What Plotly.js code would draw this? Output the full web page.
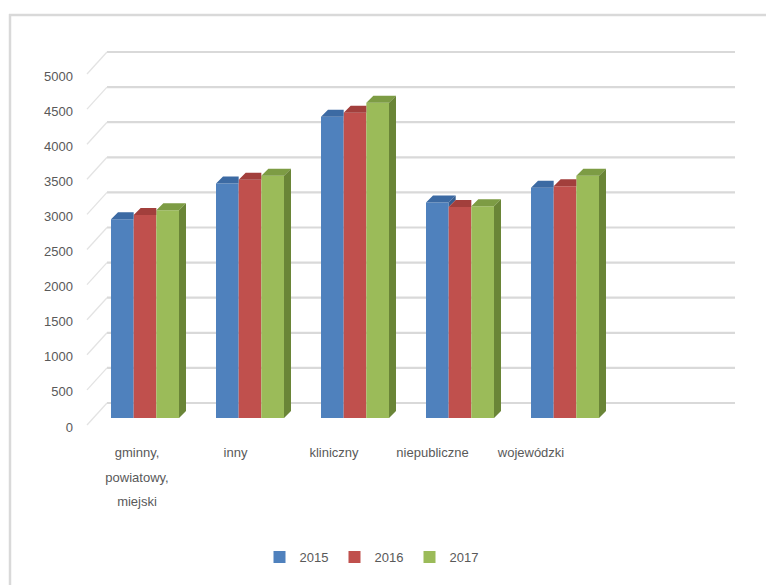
<!DOCTYPE html>
<html>
<head>
<meta charset="utf-8">
<script src="https://cdn.plot.ly/plotly-3.0.1.min.js"></script>
<style>html,body{margin:0;padding:0;background:#fff;}#chart{width:766px;height:585px;}</style>
</head>
<body>
<div id="chart"></div>
<script>
// ---- data ----
const categories = ['gminny,<br>powiatowy,<br>miejski', 'inny', 'kliniczny', 'niepubliczne', 'wojewódzki'];
const years = ['2015', '2016', '2017'];
const v2015 = [2830, 3340, 4290, 3070, 3280];
const v2016 = [2890, 3395, 4350, 3005, 3300];
const v2017 = [2960, 3450, 4490, 3015, 3450];
const yTicks = [0, 500, 1000, 1500, 2000, 2500, 3000, 3500, 4000, 4500, 5000];

// ---- styling / geometry ----
const frontColors = ['#4f81bd', '#c0504d', '#9bbb59'];
const topColors = ['#3c6aa3', '#a23f3c', '#7d9c44'];
const sideColors = ['#355d8f', '#8e3634', '#6a8537'];
const W = 766, H = 585;
const M = {l: 92, r: 31, t: 40, b: 145};
const plotW = W - M.l - M.r, plotH = H - M.t - M.b;
const pxTop = M.t, pxBot = H - M.b;
const k = 35.1 / 500;             // px per unit
const barZero = 418, labelZero = 427;
const catPx = 105, firstCat = 145;
const lblPx = 98.5, firstLbl = 137;
const bargap = 1 - 68 / 105;
const bw = (1 - bargap) / 3;
const dx = 7 / catPx, dy = 7 / k;
const px2paperX = p => (p - M.l) / plotW;
const px2paperY = p => (pxBot - p) / plotH;

const series = [v2015, v2016, v2017];
const xIdx = categories.map((c, i) => i);

const traces = series.map((vals, j) => ({
  type: 'bar', x: xIdx, y: vals, name: years[j],
  marker: {color: frontColors[j], line: {width: 0}},
  xaxis: 'x', yaxis: 'y', hoverinfo: 'y'
}));

// 3D faces (top and visible right side) built from the data
series.forEach((vals, j) => {
  const tx = [], ty = [], sx = [], sy = [];
  vals.forEach((v, i) => {
    const L = i + (j - 1.5) * bw, R = i + (j - 0.5) * bw;
    const next = j < 2 ? series[j + 1][i] : null;
    if (next !== null && next > v) {
      tx.push(L, R, R, L + dx, null); ty.push(v, v, v + dy, v + dy, null);
    } else {
      tx.push(L, R, R + dx, L + dx, null); ty.push(v, v, v + dy, v + dy, null);
      const base = next === null ? 0 : next;
      sx.push(R, R, R + dx, R + dx, null); sy.push(base, v, v + dy, base + dy, null);
    }
  });
  traces.push({type: 'scatter', x: tx, y: ty, fill: 'toself', fillcolor: topColors[j],
    mode: 'lines', line: {width: 0}, showlegend: false, hoverinfo: 'skip', xaxis: 'x', yaxis: 'y'});
  if (sx.length) traces.push({type: 'scatter', x: sx, y: sy, fill: 'toself', fillcolor: sideColors[j],
    mode: 'lines', line: {width: 0}, showlegend: false, hoverinfo: 'skip', xaxis: 'x', yaxis: 'y'});
});

// invisible trace to carry category labels axis
traces.push({type: 'scatter', x: xIdx, y: xIdx.map(() => 0), xaxis: 'x2', yaxis: 'y2',
  mode: 'markers', marker: {opacity: 0}, showlegend: false, hoverinfo: 'skip'});

const shapes = [];
// frame
shapes.push({type: 'line', xref: 'paper', yref: 'paper', layer: 'below',
  x0: px2paperX(10), x1: px2paperX(10), y0: px2paperY(14), y1: px2paperY(600),
  line: {color: '#d9d9d9', width: 2.5}});
shapes.push({type: 'line', xref: 'paper', yref: 'paper', layer: 'below',
  x0: px2paperX(9), x1: px2paperX(790), y0: px2paperY(15), y1: px2paperY(15),
  line: {color: '#d9d9d9', width: 2.5}});
yTicks.forEach(t => {
  shapes.push({type: 'line', xref: 'paper', yref: 'y2', ysizemode: 'pixel', yanchor: t,
    x0: px2paperX(107), x1: px2paperX(735), y0: 24, y1: 24, layer: 'below',
    line: {color: '#d9d9d9', width: 2.2}});
  shapes.push({type: 'line', xref: 'paper', yref: 'y2', ysizemode: 'pixel', yanchor: t,
    x0: px2paperX(87), x1: px2paperX(107), y0: 2, y1: 24, layer: 'below',
    line: {color: '#e3e3e3', width: 1.3}});
});

const font = {family: 'Liberation Sans, Arial, sans-serif', size: 13, color: '#595959'};

const layout = {
  width: W, height: H, margin: M,
  paper_bgcolor: '#ffffff', plot_bgcolor: 'rgba(0,0,0,0)',
  font: font, showlegend: true,
  barmode: 'group', bargap: bargap, bargroupgap: 0,
  xaxis: {range: [(M.l - firstCat) / catPx, (W - M.r - firstCat) / catPx],
    showticklabels: false, showgrid: false, zeroline: false, showline: false, fixedrange: true},
  xaxis2: {overlaying: 'x', anchor: 'y2', side: 'bottom',
    range: [(M.l - firstLbl) / lblPx, (W - M.r - firstLbl) / lblPx],
    tickmode: 'array', tickvals: xIdx,
    ticktext: categories.map(c => '<span style="font-size:13px">' + c + '</span>'),
    tickfont: {family: font.family, size: 19, color: '#595959'},
    ticks: '', ticklabelstandoff: -3,
    showgrid: false, zeroline: false, showline: false, fixedrange: true},
  yaxis: {range: [-(pxBot - barZero) / k, (barZero - pxTop) / k],
    showticklabels: false, showgrid: false, zeroline: false, showline: false, fixedrange: true},
  yaxis2: {overlaying: 'y', anchor: 'x', side: 'left',
    range: [-(pxBot - labelZero) / k, (labelZero - pxTop) / k],
    tickmode: 'array', tickvals: yTicks, ticktext: yTicks.map(String),
    tickfont: font, ticks: '', ticklabelstandoff: 18,
    showgrid: false, zeroline: false, showline: false, fixedrange: true},
  legend: {orientation: 'h', x: px2paperX(372), xanchor: 'center', y: px2paperY(557), yanchor: 'middle',
    font: font, traceorder: 'normal', entrywidth: 30, entrywidthmode: 'pixels'},
  shapes: shapes
};

Plotly.newPlot('chart', traces, layout, {displayModeBar: false, staticPlot: true});
</script>
</body>
</html>
